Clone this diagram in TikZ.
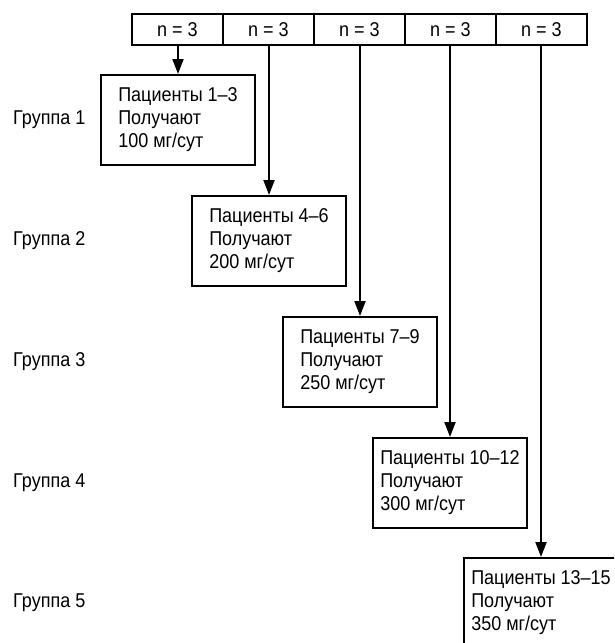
\documentclass[tikz,border=0pt]{standalone}
\usepackage{fontspec}
\setmainfont{Liberation Sans}[FakeStretch=0.9]
\usetikzlibrary{arrows.meta}
\tikzset{
  cell/.style={draw, line width=2pt, minimum width=91pt, minimum height=31pt, inner sep=0pt},
  dosebox/.style={draw, line width=2pt, minimum width=154pt, minimum height=90pt, align=left, inner sep=0pt},
  grp/.style={anchor=west, inner sep=0pt},
  arr/.style={line width=2pt, -{Triangle[length=15pt, width=11pt]}}
}
\begin{document}
\begin{tikzpicture}[x=1pt, y=-1pt, font=\fontsize{20}{23}\selectfont]
    % Рамка рисунка
    \clip (0,0) rectangle (614,643);
    \fill[white] (0,0) rectangle (614,643);

    % Верхняя строка: n = 3
    \foreach \i/\x in {1/177.5, 2/268.5, 3/359.5, 4/450.5, 5/541.5}
    \node[cell] (c\i) at (\x,29.5) {n = 3};

    % Блоки с дозами
    \foreach \i/\x/\y/\p/\d in {1/178/120/1\textendash 3/100, 2/269/241/4\textendash 6/200,
        3/360/362/7\textendash 9/250, 4/450/483/10\textendash 12/300,
        5/541/603/13\textendash 15/350}
    \node[dosebox] (b\i) at (\x,\y) {Пациенты \p\\Получают\\\d{} мг/сут};

    % Подписи групп
    \foreach \i/\y in {1/120, 2/241, 3/362, 4/483, 5/603}
    \node[grp] (g\i) at (13,\y) {Группа \i};

    % Стрелки
    \foreach \i in {1,...,5}
    \draw[arr] (c\i.south -| b\i) -- (b\i);
\end{tikzpicture}
\end{document}
